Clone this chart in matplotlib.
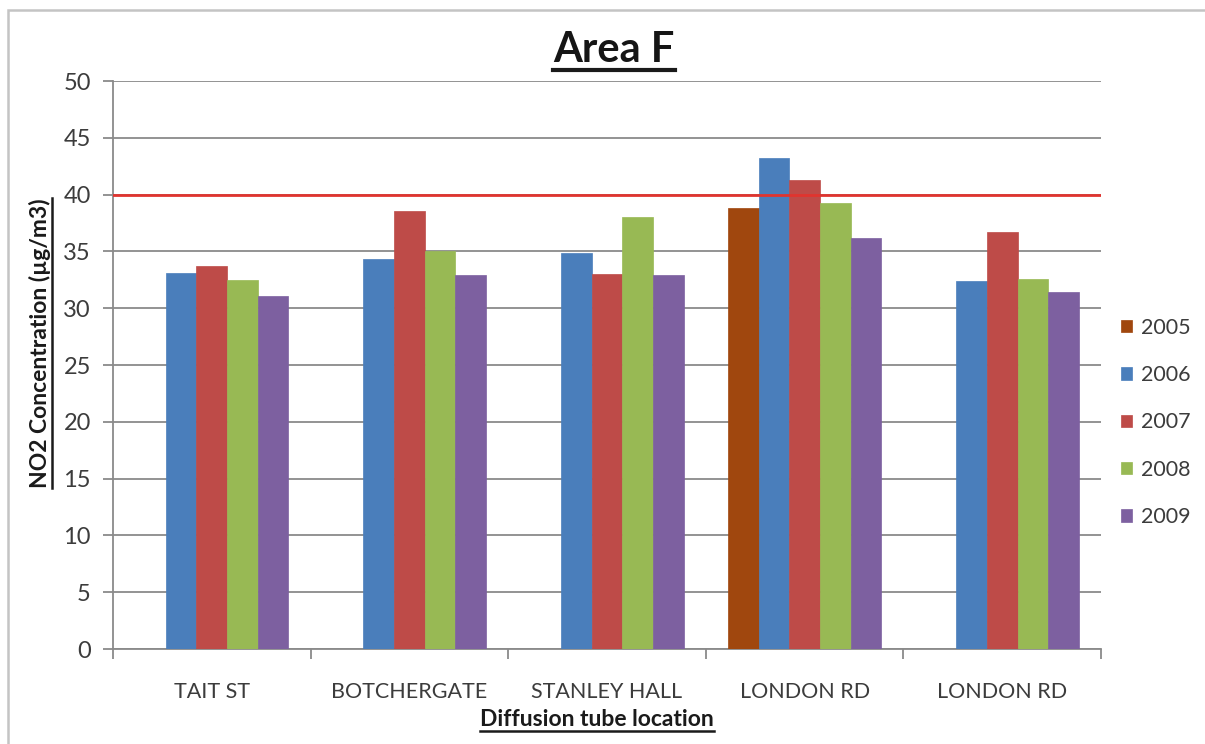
import numpy as np
import matplotlib
matplotlib.use("Agg")
import matplotlib.pyplot as plt
from matplotlib.lines import Line2D
from matplotlib.patches import Rectangle

# NO2 diffusion tube results, Area F
locations = ["TAIT ST", "BOTCHERGATE", "STANLEY HALL", "LONDON RD", "LONDON RD"]
years = ["2005", "2006", "2007", "2008", "2009"]
values_2005 = [np.nan, np.nan, np.nan, 38.8, np.nan]
values_2006 = [33.1, 34.3, 34.9, 43.2, 32.4]
values_2007 = [33.7, 38.6, 33.0, 41.3, 36.7]
values_2008 = [32.5, 35.0, 38.0, 39.3, 32.6]
values_2009 = [31.1, 32.9, 32.9, 36.2, 31.4]
objective_level = 40
y_ticks = [0, 5, 10, 15, 20, 25, 30, 35, 40, 45, 50]

series = [values_2005, values_2006, values_2007, values_2008, values_2009]
colors = ["#A0470E", "#4A7EBB", "#BE4B48", "#98B954", "#7D60A0"]
text_col = "#3C3C3C"
grid_col = "#8A8A8A"

plt.rcParams["font.family"] = ["Lato", "DejaVu Sans"]

fig = plt.figure(figsize=(12.05, 7.44), dpi=100)
fig.patch.set_facecolor("white")

# outer chart frame
fig.add_artist(Rectangle((8 / 1205, -0.02), 1.05, 1 - 10 / 744 + 0.02,
                         transform=fig.transFigure, fill=False,
                         edgecolor="#C4C4C4", linewidth=1.8))

ax = fig.add_axes([113 / 1205, 1 - 649 / 744, (1101 - 113) / 1205, (649 - 81) / 744])

n_series = len(series)
bar_w = 0.155
x = np.arange(len(locations))
for i, (vals, col, yr) in enumerate(zip(series, colors, years)):
    offs = (i - (n_series - 1) / 2) * bar_w
    ax.bar(x + offs, vals, width=bar_w, color=col, label=yr, zorder=3,
           edgecolor=col, linewidth=0.5)

ax.axhline(objective_level, color="#E0342F", linewidth=2.0, zorder=4)

ax.set_xlim(-0.5, len(locations) - 0.5)
ax.set_ylim(0, 50)
ax.set_yticks(y_ticks)
ax.yaxis.grid(True, color=grid_col, linewidth=1.3, zorder=0)
ax.set_axisbelow(True)

ax.set_xticks(x)
ax.set_xticklabels(locations, fontsize=15.5, color=text_col)
ax.tick_params(axis="x", length=0, pad=24)
ax.set_xticks(np.arange(-0.5, len(locations)), minor=True)
ax.tick_params(axis="x", which="minor", length=7, color=grid_col, width=1.3)
ax.tick_params(axis="y", length=7, color=grid_col, width=1.3,
               labelsize=17, labelcolor=text_col, pad=9)

for side in ["top", "right"]:
    ax.spines[side].set_visible(False)
for side in ["left", "bottom"]:
    ax.spines[side].set_color(grid_col)
    ax.spines[side].set_linewidth(1.3)

title = fig.text(614 / 1205, 1 - 50 / 744, "Area F", fontsize=30, fontweight="bold",
                 ha="center", va="center", color="#151515")
xlab = fig.text(597 / 1205, 1 - 719 / 744, "Diffusion tube location", fontsize=16.5,
                fontweight="bold", ha="center", va="center", color="#1A1A1A")
ylab = fig.text(40 / 1205, 1 - 343 / 744, "NO2 Concentration (\u00b5g/m3)", fontsize=16.5,
                fontweight="bold", ha="center", va="center", rotation=90, color="#1A1A1A")

leg = fig.legend(loc="upper left", bbox_to_anchor=(1110 / 1205, 1 - 307 / 744),
                 frameon=False, fontsize=15.5, handlelength=0.5, handleheight=0.5,
                 handletextpad=0.45, labelspacing=1.27, borderpad=0)
for t in leg.get_texts():
    t.set_color(text_col)

# underline the title and axis titles
fig.canvas.draw()
renderer = fig.canvas.get_renderer()
W, H = fig.get_size_inches() * fig.dpi
for txt, lw, gap in [(title, 3.0, 1), (xlab, 1.8, 1), (ylab, 1.8, 1)]:
    bb = txt.get_window_extent(renderer)
    if txt.get_rotation() == 90:
        xx = (bb.x1 + gap) / W
        fig.add_artist(Line2D([xx, xx], [bb.y0 / H, bb.y1 / H], color="#1A1A1A",
                              linewidth=lw, transform=fig.transFigure))
    else:
        yy = (bb.y0 - gap) / H
        fig.add_artist(Line2D([bb.x0 / W, bb.x1 / W], [yy, yy], color="#1A1A1A",
                              linewidth=lw, transform=fig.transFigure))

fig.savefig("out.png", dpi=100, facecolor="white")
